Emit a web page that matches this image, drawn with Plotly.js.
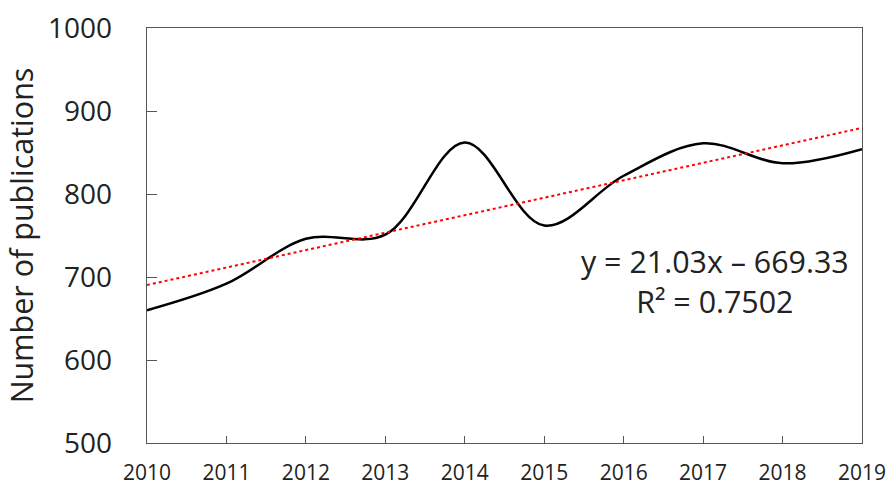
<!DOCTYPE html>
<html>
<head>
<meta charset="utf-8">
<script src="https://cdn.plot.ly/plotly-3.0.1.min.js"></script>
<style>html,body{margin:0;padding:0;background:#fff;}#chart{width:888px;height:486px;}</style>
</head>
<body>
<div id="chart"></div>
<script>
var years = [2010, 2011, 2012, 2013, 2014, 2015, 2016, 2017, 2018, 2019];
var publications = [660, 692, 746, 751, 862, 762, 822, 861, 837, 854];
var trendYears = [2010, 2019];
var trendValues = [690.36, 879.63];
var yTicks = [500, 600, 700, 800, 900, 1000];
var equationText = 'y = 21.03x – 669.33<br>R² = 0.7502';

var traces = [
  {
    x: years, y: publications, type: 'scatter', mode: 'lines',
    line: {color: '#000000', width: 2.5, shape: 'spline', smoothing: 1},
    hoverinfo: 'skip'
  },
  {
    x: trendYears, y: trendValues, type: 'scatter', mode: 'lines',
    line: {color: '#ff0000', width: 2, dash: 'dot'},
    hoverinfo: 'skip'
  }
];

var layout = {
  width: 888, height: 486,
  margin: {l: 147, r: 26, t: 28, b: 43},
  paper_bgcolor: '#ffffff', plot_bgcolor: '#ffffff',
  showlegend: false,
  font: {family: 'Open Sans, sans-serif', color: '#222222'},
  xaxis: {
    range: [2010, 2019], tickvals: years, ticktext: years.map(String),
    ticks: 'inside', ticklen: 7, tickcolor: '#555555', tickwidth: 1,
    showline: true, linecolor: '#555555', linewidth: 1.3, mirror: true,
    showgrid: false, zeroline: false,
    tickfont: {size: 21, color: '#222222'}, ticklabelstandoff: 10
  },
  yaxis: {
    range: [500, 1000], tickvals: yTicks,
    ticks: 'inside', ticklen: 10, tickcolor: '#555555', tickwidth: 1,
    showline: true, linecolor: '#555555', linewidth: 1.3, mirror: true,
    showgrid: false, zeroline: false,
    tickfont: {size: 28, color: '#222222'}, ticklabelstandoff: 28,
    title: {text: 'Number of publications', font: {size: 30.5, color: '#222222'}, standoff: 8}
  },
  annotations: [{
    xref: 'paper', yref: 'paper', x: 0.794, y: 0.39,
    xanchor: 'center', yanchor: 'middle',
    text: equationText, showarrow: false, align: 'center',
    font: {size: 30.4, color: '#222222', family: 'Open Sans, sans-serif'}
  }]
};

Plotly.newPlot('chart', traces, layout, {staticPlot: true, displayModeBar: false});
</script>
</body>
</html>
